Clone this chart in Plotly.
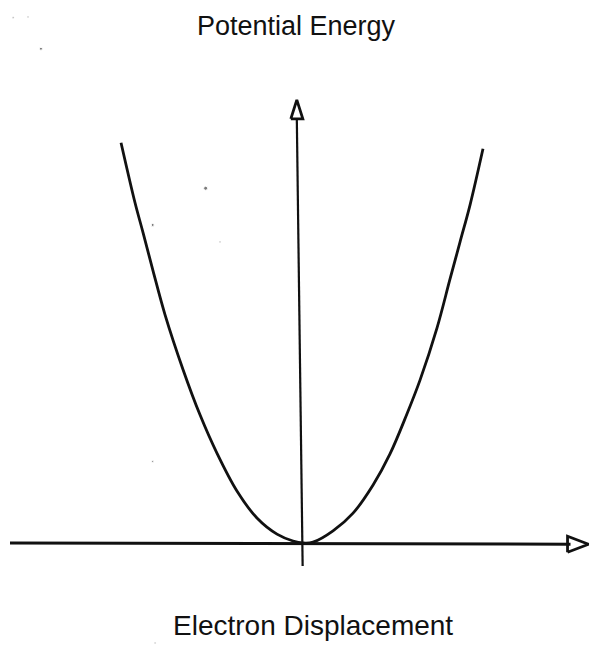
import plotly.graph_objects as go

# Potential energy curve of a bound electron vs. its displacement
displacement = [-1.000, -0.923, -0.879, -0.824, -0.758, -0.659, -0.566, -0.473,
                -0.363, -0.253, -0.143, -0.055, 0.000, 0.055, 0.165, 0.275,
                0.385, 0.478, 0.571, 0.643, 0.736, 0.808, 0.863, 0.918, 0.989]
energy = [0.993, 0.844, 0.770, 0.675, 0.566, 0.430, 0.318, 0.223,
          0.129, 0.062, 0.022, 0.005, 0.000, 0.002, 0.030, 0.074,
          0.144, 0.221, 0.320, 0.404, 0.533, 0.655, 0.747, 0.839, 0.978]

# Hand-drawn axes (end points in data units)
x_axis_x = [-1.610, 1.470]
x_axis_y = [0.000, -0.003]
y_axis_x = [-0.002, -0.034]
y_axis_y = [-0.057, 1.052]

# Loose ink specks on the sheet
speck_x = [-1.593, -1.511, -1.440, -0.535, -0.826, -0.456, -0.826, -0.813]
speck_y = [1.303, 1.305, 1.226, 0.880, 0.789, 0.747, 0.202, -0.248]
speck_size = [2, 2, 3, 4, 3, 2, 2, 2]

title_text = "Potential Energy"
xlabel_text = "Electron Displacement"

# Data range shown across the whole canvas
X_RANGE = [-1.665, 1.588]
Y_RANGE = [-0.253, 1.347]
W, H = 592, 645
px_x = W / (X_RANGE[1] - X_RANGE[0])   # pixels per displacement unit
px_y = H / (Y_RANGE[1] - Y_RANGE[0])   # pixels per energy unit

INK = "#111111"
FONT = "Liberation Sans, Arial, sans-serif"

fig = go.Figure()

fig.add_trace(go.Scatter(x=displacement, y=energy, mode="lines",
                         line=dict(color=INK, width=2.8, shape="spline", smoothing=1.0),
                         hoverinfo="skip"))

fig.add_trace(go.Scatter(x=x_axis_x, y=x_axis_y, mode="lines",
                         line=dict(color=INK, width=3), hoverinfo="skip"))
fig.add_trace(go.Scatter(x=y_axis_x, y=y_axis_y, mode="lines",
                         line=dict(color=INK, width=2.2), hoverinfo="skip"))

# Open arrowheads at the axis ends, sized in pixels
def arrow_up(x0, y0, half_w, length):
    hw = half_w / px_x
    ln = length / px_y
    return [x0 - hw, x0 + hw, x0, x0 - hw], [y0, y0, y0 + ln, y0]

def arrow_right(x0, y0, half_h, length):
    hh = half_h / px_y
    ln = length / px_x
    return [x0, x0, x0 + ln, x0], [y0 - hh, y0 + hh, y0, y0 - hh]

ax_up, ay_up = arrow_up(y_axis_x[1], y_axis_y[1], 6, 19)
ax_rt, ay_rt = arrow_right(x_axis_x[1] - 3 / px_x, x_axis_y[1], 8, 21)
for ax, ay in ((ax_up, ay_up), (ax_rt, ay_rt)):
    fig.add_trace(go.Scatter(x=ax, y=ay, mode="lines",
                             line=dict(color=INK, width=2.8), hoverinfo="skip"))

fig.add_trace(go.Scatter(x=speck_x, y=speck_y, mode="markers",
                         marker=dict(color="#444444", size=speck_size),
                         hoverinfo="skip"))

fig.add_annotation(text=title_text, x=0.5, y=1 - 25.5 / H, xref="paper", yref="paper",
                   xanchor="center", yanchor="middle", showarrow=False,
                   font=dict(family=FONT, size=27, color=INK))
fig.add_annotation(text=xlabel_text, x=312.5 / W, y=1 - 643 / H, xref="paper", yref="paper",
                   xanchor="center", yanchor="bottom", showarrow=False,
                   font=dict(family=FONT, size=28, color=INK))

fig.update_layout(
    width=W, height=H,
    margin=dict(l=0, r=0, t=0, b=0),
    paper_bgcolor="white", plot_bgcolor="white",
    showlegend=False,
    xaxis=dict(range=X_RANGE, visible=False, fixedrange=True),
    yaxis=dict(range=Y_RANGE, visible=False, fixedrange=True),
)

fig.write_html("out.html")
